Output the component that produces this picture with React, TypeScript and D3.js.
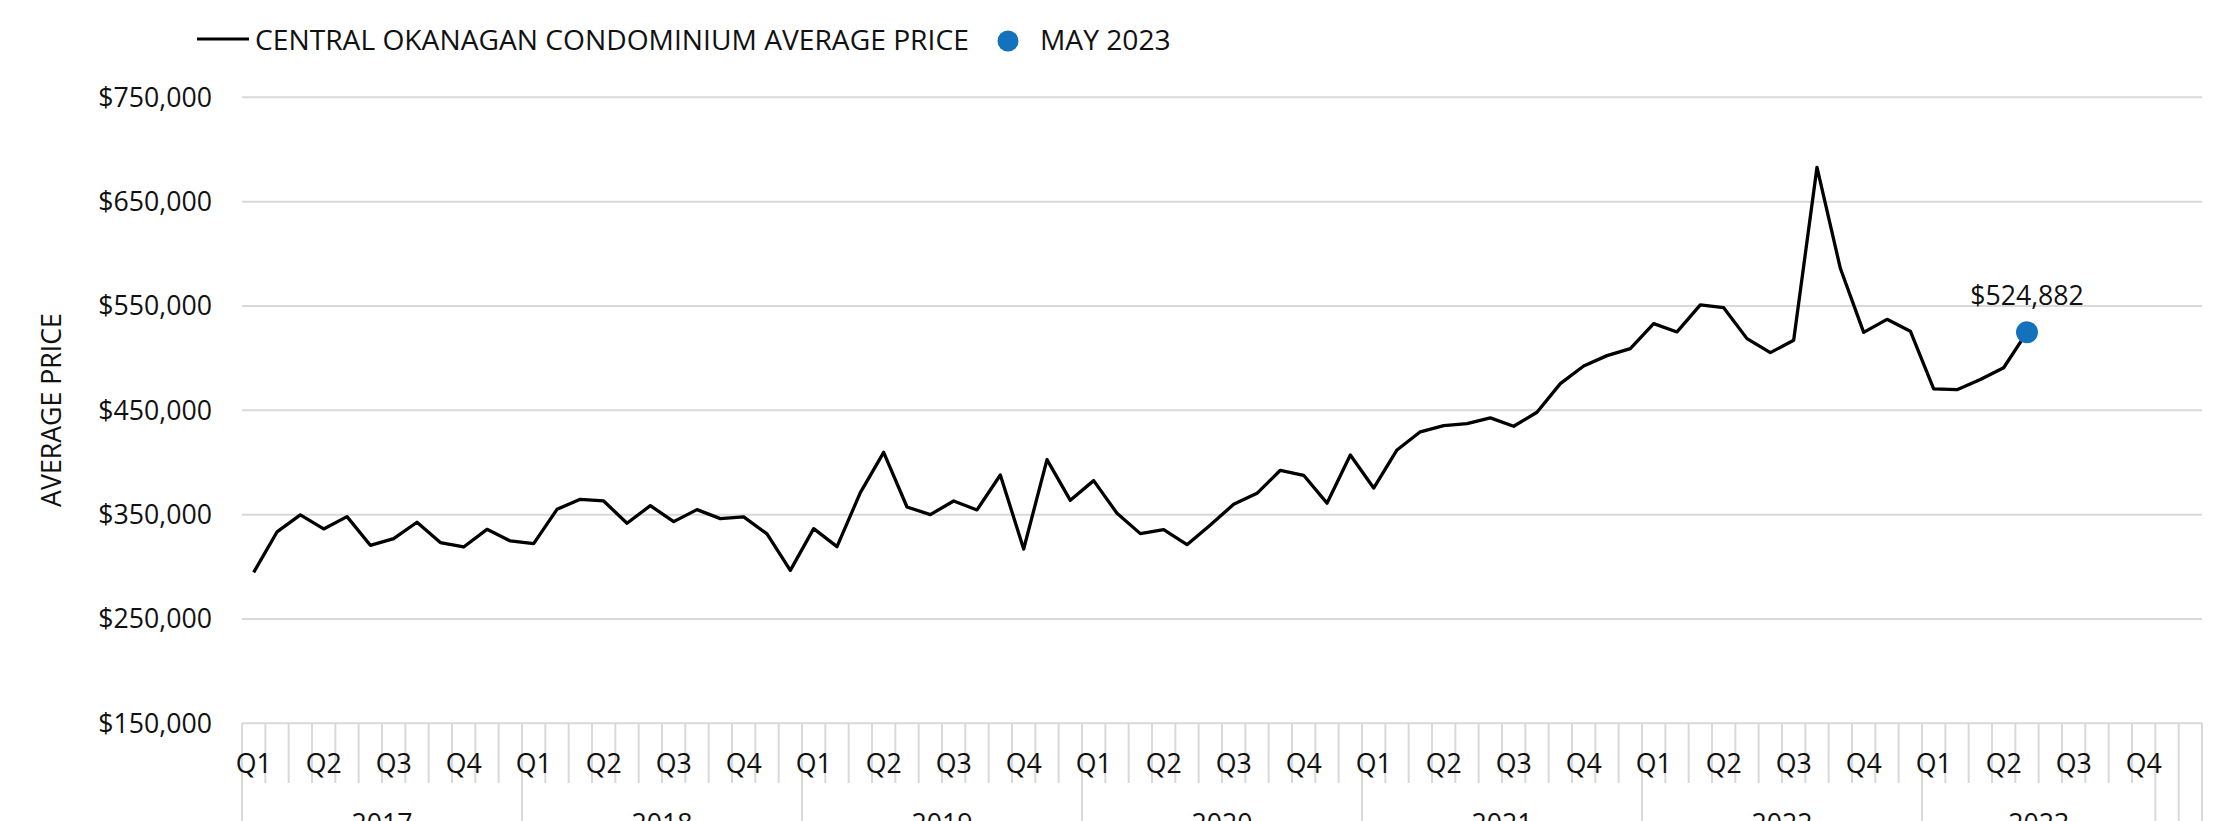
import React, { useEffect } from "react"
import * as d3 from "d3"

// monthly average price, Jan 2017 .. May 2023
const years = ["2017", "2018", "2019", "2020", "2021", "2022", "2023"]
const quarters = ["Q1", "Q2", "Q3", "Q4"]
const price2017 = [294700, 333400, 349700, 336300, 348100, 320600, 327000, 342700, 323200, 319000, 335900, 324800]
const price2018 = [322200, 355100, 364700, 363100, 341700, 358600, 343300, 354800, 346200, 347800, 331500, 296600]
const price2019 = [336600, 319300, 371100, 409700, 357300, 350000, 363100, 354500, 388000, 317100, 402700, 363700]
const price2020 = [382600, 351300, 331800, 335600, 321200, 340100, 359900, 370400, 392500, 387700, 361000, 407200]
const price2021 = [375500, 412000, 429400, 435300, 437200, 442700, 434700, 448100, 475600, 492500, 502400, 509100]
const price2022 = [533100, 525100, 551000, 548400, 518700, 505300, 517100, 682900, 586100, 524700, 537200, 525800]
const price2023 = [470500, 469800, 479500, 490800, 524882]
const yTicks = [150000, 250000, 350000, 450000, 550000, 650000, 750000]
const seriesName = "CENTRAL OKANAGAN CONDOMINIUM AVERAGE PRICE"
const highlightName = "MAY 2023"

const prices = [...price2017, ...price2018, ...price2019, ...price2020, ...price2021, ...price2022, ...price2023]
const nMonths = years.length * 12

const W = 2223
const H = 821
const left = 242
const right = 2202
const top = 97.3
const bottom = 723.3
const FONT = "'Open Sans', sans-serif"
const FS = 26.7
const GRID = "#d9d9d9"
const BLUE = "#1372bb"
const INK = "#111"

export default function App() {
    useEffect(() => {
        document.body.style.margin = "0"
    }, [])

    const x = d3.scaleBand<number>().domain(d3.range(nMonths)).range([left, right])
    const y = d3.scaleLinear().domain([150000, 750000]).range([bottom, top])
    const cx = (i: number) => (x(i) as number) + x.bandwidth() / 2
    const line = d3.line<number>().x((d, i) => cx(i)).y(d => y(d))
    const fmt = (v: number) => "$" + d3.format(",")(v)

    const last = prices.length - 1
    // the year cells run out after Oct 2023, so the last two months sit in their own groups
    const yearSpan = (k: number) => k === years.length - 1 ? [k * 12, k * 12 + 10] : [k * 12, k * 12 + 12]
    const longTicks = new Set<number>([...years.map((_, k) => k * 12), nMonths - 2, nMonths - 1, nMonths])

    return (
        <svg width={W} height={H} style={{ display: "block" }} fontFamily={FONT}>
            {/* gridlines */}
            {yTicks.map(t => (
                <line key={t} x1={left} x2={right} y1={y(t)} y2={y(t)} stroke={GRID} strokeWidth={2} />
            ))}
            {yTicks.map(t => (
                <text key={"l" + t} x={212} y={y(t)} dy="0.35em" textAnchor="end" fontSize={FS} fill={INK}>
                    {fmt(t)}
                </text>
            ))}
            <text transform={`translate(61,410) rotate(-90)`} textAnchor="middle" fontSize={FS} fill={INK}>
                AVERAGE PRICE
            </text>

            {/* category axis */}
            {d3.range(nMonths + 1).map(k => {
                const xx = k === nMonths ? right : (x(k) as number)
                return (
                    <line key={"t" + k} x1={xx} x2={xx} y1={bottom} y2={longTicks.has(k) ? H : 783}
                        stroke={GRID} strokeWidth={2} />
                )
            })}
            {d3.range(0, nMonths, 3).map(i => (
                <text key={"q" + i} x={cx(i)} y={773} textAnchor="middle" fontSize={FS} fill={INK}>
                    {quarters[(i % 12) / 3]}
                </text>
            ))}
            {years.map((yr, k) => {
                const [a, b] = yearSpan(k)
                return (
                    <text key={yr} x={left + ((a + b) / 2) * x.bandwidth()} y={833} textAnchor="middle"
                        fontSize={FS} fill={INK}>
                        {yr}
                    </text>
                )
            })}

            <path d={line(prices) as string} fill="none" stroke="#000" strokeWidth={3.3} strokeLinejoin="round" />
            <circle cx={cx(last)} cy={y(prices[last])} r={11} fill={BLUE} />
            <text x={cx(last)} y={305} textAnchor="middle" fontSize={FS} fill={INK}>
                {fmt(prices[last])}
            </text>

            {/* legend */}
            <line x1={197} x2={249} y1={39} y2={39} stroke="#000" strokeWidth={3} />
            <text x={255} y={50} fontSize={28.2} fill={INK}>{seriesName}</text>
            <circle cx={1008} cy={41} r={10.5} fill={BLUE} />
            <text x={1040} y={50} fontSize={28.2} fill={INK}>{highlightName}</text>
        </svg>
    )
}
